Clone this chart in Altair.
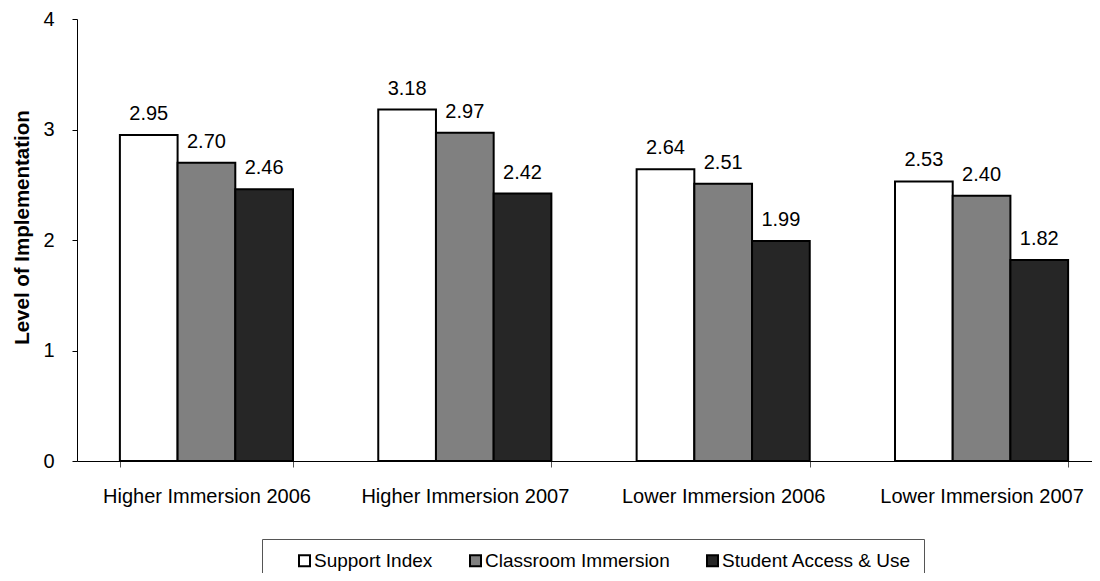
import altair as alt
import pandas as pd

groups = ["Higher Immersion 2006", "Higher Immersion 2007", "Lower Immersion 2006", "Lower Immersion 2007"]
series = ["Support Index", "Classroom Immersion", "Student Access & Use"]
support_index = [2.95, 3.18, 2.64, 2.53]
classroom_immersion = [2.70, 2.97, 2.51, 2.40]
student_access_use = [2.46, 2.42, 1.99, 1.82]
colors = ["#FFFFFF", "#808080", "#262626"]
y_ticks = [0, 1, 2, 3, 4]

rows = []
for s, vals in zip(series, [support_index, classroom_immersion, student_access_use]):
    for g, v in zip(groups, vals):
        rows.append({"group": g, "series": s, "value": v})
df = pd.DataFrame(rows)

FONT = "Liberation Sans"

x_enc = alt.X(
    "group:N", sort=groups, title=None,
    scale=alt.Scale(range=[0, 1034], paddingInner=0.33, paddingOuter=0.166),
    axis=alt.Axis(labelAngle=0, tickBand="extent", labelFontSize=20, labelFont=FONT,
                  labelColor="black", labelPadding=19, labelLimit=400, tickSize=6,
                  tickColor="#555555", domainColor="black", domainWidth=1),
)
xo_enc = alt.XOffset("series:N", sort=series, scale=alt.Scale(paddingInner=0, paddingOuter=0))
y_enc = alt.Y(
    "value:Q", scale=alt.Scale(domain=[0, 4], nice=False),
    axis=alt.Axis(values=y_ticks, grid=False, title="Level of Implementation",
                  titleFontWeight="bold", titleFontSize=20.5, titleFont=FONT, titleColor="black",
                  titlePadding=10, titleY=208, labelFontSize=20, labelFont=FONT, labelColor="black",
                  labelPadding=18, tickSize=5, tickColor="black", domainColor="black",
                  format="d"),
)

bars = alt.Chart(df).mark_bar(stroke="black", strokeWidth=2).encode(
    x=x_enc,
    xOffset=xo_enc,
    y=y_enc,
    fill=alt.Fill(
        "series:N", sort=series,
        scale=alt.Scale(domain=series, range=colors),
        legend=alt.Legend(
            title=None, orient="none", legendX=185, legendY=520, direction="horizontal",
            symbolType="square", symbolSize=121, symbolStrokeColor="black",
            symbolStrokeWidth=2, symbolOffset=21, labelFontSize=19, labelFont=FONT,
            labelColor="black", labelOffset=0, columnPadding=12, padding=12,
            strokeColor="#555555", labelLimit=400,
        ),
    ),
)

labels = alt.Chart(df).mark_text(
    dy=-15, baseline="alphabetic", fontSize=20, font=FONT, color="black"
).encode(
    x=x_enc,
    xOffset=xo_enc,
    y=alt.Y("value:Q"),
    text=alt.Text("value:Q", format=".2f"),
)

chart = alt.layer(bars, labels).properties(
    width=1015,
    height=442,
    autosize=alt.AutoSizeParams(type="none"),
    padding={"left": 69, "top": 11, "right": 0, "bottom": 112},
    background="white",
).configure_view(stroke=None)

chart.save("out.html", embed_options={"renderer": "svg", "actions": False})
